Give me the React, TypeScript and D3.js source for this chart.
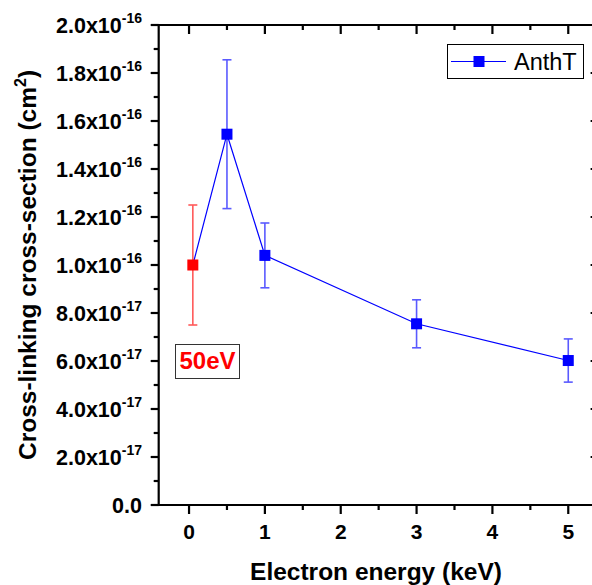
import React from "react";
import * as d3 from "d3";

const energies = [0.05, 0.5, 1, 3, 5];
const crossSections = [1.0e-16, 1.545e-16, 1.04e-16, 7.55e-17, 6.02e-17];
const errors = [2.5e-17, 3.1e-17, 1.35e-17, 1.0e-17, 0.9e-17];
const pointColors = ["#ff0000", "#0000ff", "#0000ff", "#0000ff", "#0000ff"];
const barColors = ["#ff5a5a", "#5a5aff", "#5a5aff", "#5a5aff", "#5a5aff"];
const xMajorTicks = [0, 1, 2, 3, 4, 5];
const xMinorTicks = [0.5, 1.5, 2.5, 3.5, 4.5];
const yMajorTicks = [0, 2e-17, 4e-17, 6e-17, 8e-17, 1e-16, 1.2e-16, 1.4e-16, 1.6e-16, 1.8e-16, 2e-16];
const yMinorTicks = [1e-17, 3e-17, 5e-17, 7e-17, 9e-17, 1.1e-16, 1.3e-16, 1.5e-16, 1.7e-16, 1.9e-16];
const seriesName = "AnthT";
const noteLabel = "50eV";

const W = 592;
const H = 585;
const L = 158.7;
const R = 598.6;
const T = 25;
const B = 505;
const FONT = "'Liberation Sans', Arial, sans-serif";

function tickLabel(v: number) {
  if (v === 0) return { mant: "0.0", exp: "" };
  const e = Math.floor(Math.log10(v) + 1e-9);
  const m = v / Math.pow(10, e);
  return { mant: m.toFixed(1) + "x10", exp: String(e) };
}

export default function App() {
  const x = d3.scaleLinear().domain([-0.4, 5.4]).range([L, R]);
  const y = d3.scaleLinear().domain([0, 2e-16]).range([B, T]);
  const line = d3
    .line<number>()
    .x((_, i) => x(energies[i]))
    .y((d) => y(d));

  return (
    <svg width={W} height={H} style={{ position: "absolute", left: 0, top: 0 }} fontFamily={FONT}>
      <rect width={W} height={H} fill="#fff" />
      {/* error bars */}
      {energies.map((e, i) => {
        const cx = x(e);
        const yt = y(crossSections[i] + errors[i]);
        const yb = y(crossSections[i] - errors[i]);
        return (
          <g key={"eb" + i} stroke={barColors[i]} strokeWidth={1.6}>
            <line x1={cx} x2={cx} y1={yt} y2={yb} />
            <line x1={cx - 4.5} x2={cx + 4.5} y1={yt} y2={yt} />
            <line x1={cx - 4.5} x2={cx + 4.5} y1={yb} y2={yb} />
          </g>
        );
      })}
      <path d={line(crossSections) || ""} fill="none" stroke="#0000ff" strokeWidth={1.2} />
      {energies.map((e, i) => (
        <rect
          key={"pt" + i}
          x={x(e) - 5.5}
          y={y(crossSections[i]) - 5.5}
          width={11}
          height={11}
          fill={pointColors[i]}
        />
      ))}

      {/* axes frame */}
      <g stroke="#000" strokeWidth={2.2}>
        <line x1={L} x2={L} y1={T - 1} y2={B + 1} />
        <line x1={L - 1} x2={R + 1} y1={B} y2={B} />
        <line x1={L - 1} x2={R + 1} y1={T} y2={T} />
        <line x1={R} x2={R} y1={T - 1} y2={B + 1} />
        {xMajorTicks.map((t) => (
          <g key={"xM" + t}>
            <line x1={x(t)} x2={x(t)} y1={B} y2={B + 9} />
            <line x1={x(t)} x2={x(t)} y1={T} y2={T + 9} />
          </g>
        ))}
        {xMinorTicks.map((t) => (
          <g key={"xm" + t}>
            <line x1={x(t)} x2={x(t)} y1={B} y2={B + 5} />
            <line x1={x(t)} x2={x(t)} y1={T} y2={T + 5} />
          </g>
        ))}
        {yMajorTicks.map((t) => (
          <g key={"yM" + t}>
            <line x1={L - 8} x2={L} y1={y(t)} y2={y(t)} />
            <line x1={R - 8} x2={R} y1={y(t)} y2={y(t)} />
          </g>
        ))}
        {yMinorTicks.map((t) => (
          <g key={"ym" + t}>
            <line x1={L - 5} x2={L} y1={y(t)} y2={y(t)} />
            <line x1={R - 5} x2={R} y1={y(t)} y2={y(t)} />
          </g>
        ))}
      </g>

      {/* tick labels */}
      {xMajorTicks.map((t) => (
        <text key={"xl" + t} x={x(t)} y={539} textAnchor="middle" fontSize={21} fontWeight="bold">
          {t}
        </text>
      ))}
      {yMajorTicks.map((t) => {
        const lab = tickLabel(t);
        return (
          <text key={"yl" + t} x={142} y={y(t) + 8} textAnchor="end" fontSize={21.5} fontWeight="bold">
            {lab.mant}
            {lab.exp && (
              <tspan fontSize={14} dy={-10}>
                {lab.exp}
              </tspan>
            )}
          </text>
        );
      })}

      {/* axis titles */}
      <text x={376} y={580} textAnchor="middle" fontSize={24.5} fontWeight="bold">
        Electron energy (keV)
      </text>
      <text
        transform={`translate(35.5, 265) rotate(-90)`}
        textAnchor="middle"
        fontSize={24.5}
        fontWeight="bold"
      >
        Cross-linking cross-section (cm
        <tspan fontSize={16} dy={-10}>2</tspan>
        <tspan dy={10}>)</tspan>
      </text>

      {/* legend */}
      <rect x={447.5} y={44.5} width={136} height={34} fill="#fff" stroke="#000" strokeWidth={1} />
      <line x1={451} x2={506} y1={61.5} y2={61.5} stroke="#0000ff" strokeWidth={1.2} />
      <rect x={473.5} y={56} width={11} height={11} fill="#0000ff" />
      <text x={514} y={70} fontSize={23.5}>
        {seriesName}
      </text>

      {/* note box */}
      <rect x={175.5} y={344.5} width={64} height={34} fill="#fff" stroke="#333" strokeWidth={1} />
      <text x={207.5} y={369} textAnchor="middle" fontSize={24} fontWeight="bold" fill="#ff0000">
        {noteLabel}
      </text>
    </svg>
  );
}
